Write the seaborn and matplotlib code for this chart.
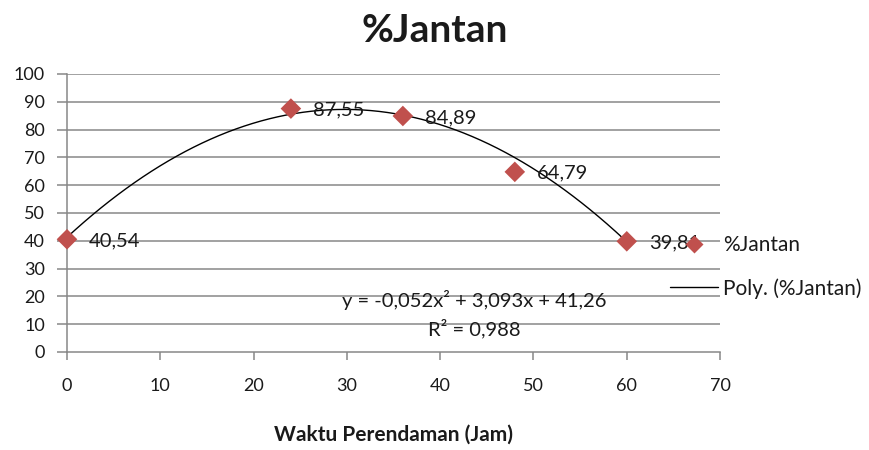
import numpy as np
import pandas as pd
import matplotlib
matplotlib.use("Agg")
import matplotlib.pyplot as plt
from matplotlib.lines import Line2D
import seaborn as sns

# Soaking time (hours) and percentage of males
waktu = [0, 24, 36, 48, 60]
jantan = [40.54, 87.55, 84.89, 64.79, 39.81]
label_nilai = ["40,54", "87,55", "84,89", "64,79", "39,81"]

# Second-order polynomial trendline coefficients (a, b, c) and R²
poly_coef = [-0.052, 3.093, 41.26]
r_kuadrat = "0,988"
persamaan = "y = -0,052x² + 3,093x + 41,26"

x_ticks = [0, 10, 20, 30, 40, 50, 60, 70]
y_ticks = [0, 10, 20, 30, 40, 50, 60, 70, 80, 90, 100]

sns.set_theme(style="white")
plt.rcParams["font.family"] = ["Lato", "DejaVu Sans"]

MERAH = "#C0504D"
ABU = "#878787"
TEKS = "#1a1a1a"

df = pd.DataFrame({"Waktu": waktu, "Jantan": jantan})
xt = np.linspace(min(waktu), max(waktu), 200)
df_trend = pd.DataFrame({"Waktu": xt, "Fit": np.polyval(poly_coef, xt)})

fig = plt.figure(figsize=(8.69, 4.5), dpi=100)
ax = fig.add_axes([0.0771, 0.2178, 0.7515, 0.6178])

ax.set_xlim(0, 70)
ax.set_ylim(0, 100)
ax.set_xticks(x_ticks)
ax.set_yticks(y_ticks)

for v in y_ticks[1:]:
    ax.axhline(v, color=ABU, lw=1.1, zorder=1)

sns.lineplot(data=df_trend, x="Waktu", y="Fit", ax=ax, color="black",
             lw=1.0, zorder=3, legend=False)
sns.scatterplot(data=df, x="Waktu", y="Jantan", ax=ax, marker="D",
                color=MERAH, s=110, edgecolor="none", zorder=4,
                clip_on=False, legend=False)

for xv, yv, lab in zip(waktu, jantan, label_nilai):
    ax.annotate(lab, (xv, yv), xytext=(16, -1), textcoords="offset points",
                ha="left", va="center", fontsize=14.5, color=TEKS, zorder=5)

ax.text(43.7, 18.7, persamaan, ha="center", va="center", fontsize=14.5,
        color=TEKS, zorder=5)
ax.text(43.7, 8.6, f"R² = {r_kuadrat}", ha="center", va="center",
        fontsize=14.5, color=TEKS, zorder=5)

for s in ["top", "right"]:
    ax.spines[s].set_visible(False)
for s in ["left", "bottom"]:
    ax.spines[s].set_color(ABU)
    ax.spines[s].set_linewidth(1.1)

ax.tick_params(axis="x", direction="out", length=6, width=1.1, color=ABU,
               pad=13, labelsize=13, labelcolor=TEKS, bottom=True)
ax.tick_params(axis="y", direction="out", length=7, width=1.1, color=ABU,
               pad=9, labelsize=13, labelcolor=TEKS, left=True)
ax.set_xlabel("")
ax.set_ylabel("")

fig.text(0.5, 1 - 30 / 450, "%Jantan", ha="center", va="center",
         fontsize=28, fontweight="bold", color=TEKS)
fig.text(393.5 / 869, 1 - 435 / 450, "Waktu Perendaman (Jam)", ha="center",
         va="center", fontsize=15, fontweight="bold", color=TEKS)

handles = [
    Line2D([], [], marker="D", color=MERAH, ls="none", ms=9, mec="none"),
    Line2D([], [], color="black", lw=1.0),
]
fig.legend(handles, ["%Jantan", "Poly. (%Jantan)"], loc="center left",
           bbox_to_anchor=(670 / 869, 1 - 267 / 450), frameon=False,
           fontsize=15, handlelength=2.3, handletextpad=0.25,
           labelspacing=1.1, borderpad=0, borderaxespad=0,
           labelcolor=TEKS)

fig.savefig("out.png", dpi=100)
